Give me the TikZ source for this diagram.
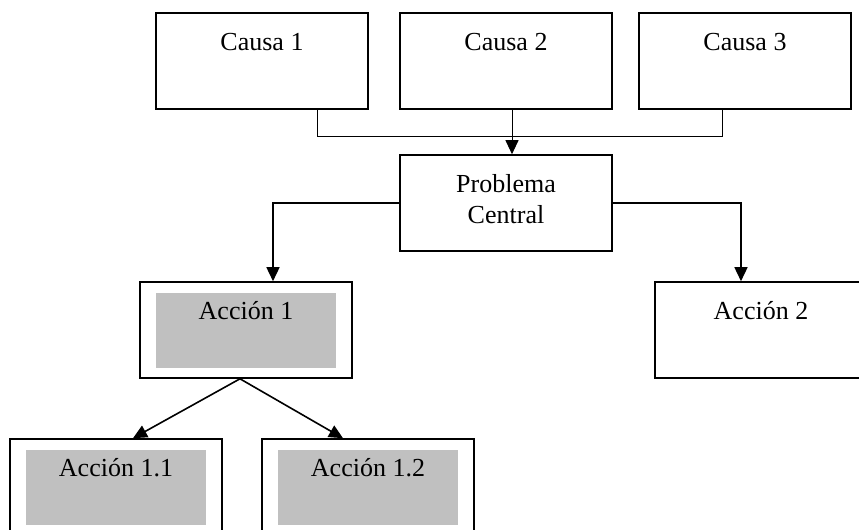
\documentclass[tikz,border=0pt]{standalone}
\usepackage{fontspec}
\setmainfont{Liberation Serif}
\usetikzlibrary{arrows.meta}
\definecolor{gris}{RGB}{192,192,192}
\tikzset{
  caja/.style={draw=black, line width=0.8pt, inner sep=0pt,
    minimum width=106pt, minimum height=48pt, text height=9pt, text depth=20pt},
  accion/.style={path picture={\fill[gris]
    ([xshift=8pt,yshift=-5.5pt]path picture bounding box.north west) rectangle
    ([xshift=-8pt,yshift=5pt]path picture bounding box.south east);}}
}
\begin{document}
\begin{tikzpicture}[x=0.5pt,y=-0.5pt,font=\fontsize{13}{15.5}\selectfont,
  >={Triangle[width=6.5pt,length=7pt]}]
   \useasboundingbox (0,0) rectangle (859,530);
   \begin{scope}[every node/.style={caja}]
    \node (c1) at (262,61) {Causa 1};
    \node (c2) at (506,61) {Causa 2};
    \node (c3) at (745,61) {Causa 3};
    \node (pc) at (506,203) {\begin{tabular}[t]{@{}c@{}}Problema\\Central\end{tabular}};
    \node (a2) at (761,330) {Acción 2};
   \end{scope}
   \begin{scope}[every node/.style={caja,accion}]
    \node (a1) at (246,330) {Acción 1};
    \node (a11) at (116,487) {Acción 1.1};
    \node (a12) at (368,487) {Acción 1.2};
   \end{scope}
   \begin{scope}[line width=0.5pt]
    \draw ([xshift=27.5pt]c1.south) -- ++(0,27) -| ([xshift=-11.5pt]c3.south);
    \draw[->] ([xshift=3pt]c2.south) -- ([xshift=3pt]pc.north);
   \end{scope}
   \begin{scope}[line width=0.8pt]
    \draw[->] (pc.west) -| ([xshift=13.5pt]a1.north);
    \draw[->] (pc.east) -| ([xshift=-10pt]a2.north);
    \draw[->] ([xshift=-3pt]a1.south) -- ([xshift=8.5pt]a11.north);
    \draw[->] ([xshift=-3pt]a1.south) -- ([xshift=-12.5pt]a12.north);
   \end{scope}
\end{tikzpicture}
\end{document}
